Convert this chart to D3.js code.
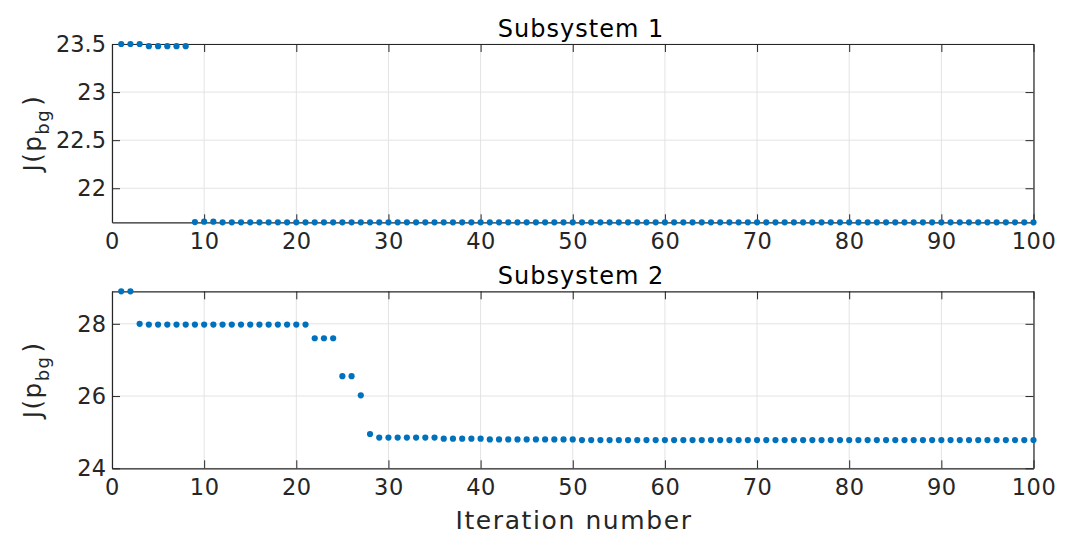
<!DOCTYPE html>
<html><head><meta charset="utf-8">
<script src="https://cdn.jsdelivr.net/npm/d3@7"></script>
<style>
body{margin:0;background:#fff;}
svg{display:block;font-family:"DejaVu Sans",Verdana,sans-serif;}
</style></head>
<body><svg id="c" width="1073" height="535"></svg>
<script>
const iterations = d3.range(1, 101);
const sub1Values = [23.5,23.5,23.5,23.477,23.477,23.477,23.477,23.477,
  21.648,21.652,21.652].concat(d3.range(12,101).map(()=>21.646));
const sub2Values = [28.9,28.9,28.0].concat(d3.range(4,22).map(()=>27.98))
  .concat([27.6,27.6,27.6,26.55,26.55,26.02,24.95])
  .concat(d3.range(29,36).map(()=>24.85))
  .concat(d3.range(36,41).map(()=>24.82))
  .concat(d3.range(41,51).map(()=>24.8))
  .concat(d3.range(51,101).map(()=>24.78));
const xTicks = [0,10,20,30,40,50,60,70,80,90,100];
const y1Ticks = [22,22.5,23,23.5];
const y2Ticks = [24,26,28];
const titles = ["Subsystem 1","Subsystem 2"];

const svg = d3.select("#c");
const x = d3.scaleLinear().domain([0,100]).range([112,1033.5]);
const panels = [
  {vals:sub1Values, dom:[21.646,23.5], top:44, bottom:222.3, ticks:y1Ticks, title:titles[0], fmt:d=>d},
  {vals:sub2Values, dom:[24,28.9], top:291.3, bottom:468.3, ticks:y2Ticks, title:titles[1], fmt:d=>d}
];
const color = "#0072BD";
panels.forEach(p=>{
  const y = d3.scaleLinear().domain(p.dom).range([p.bottom,p.top]);
  const g = svg.append("g");
  g.selectAll(".gx").data(xTicks).join("line")
    .attr("x1",d=>x(d)).attr("x2",d=>x(d)).attr("y1",p.top).attr("y2",p.bottom)
    .attr("stroke","#e3e3e3").attr("stroke-width",1);
  g.selectAll(".gy").data(p.ticks).join("line")
    .attr("x1",x(0)).attr("x2",x(100)).attr("y1",d=>y(d)).attr("y2",d=>y(d))
    .attr("stroke","#e3e3e3").attr("stroke-width",1);
  const ax = g.append("g").attr("transform",`translate(0,${p.bottom})`)
    .call(d3.axisBottom(x).tickValues(xTicks).tickSizeInner(-8).tickSizeOuter(0).tickPadding(11));
  const axT = g.append("g").attr("transform",`translate(0,${p.top})`)
    .call(d3.axisTop(x).tickValues(xTicks).tickSizeInner(-8).tickSizeOuter(0).tickFormat(""));
  const ay = g.append("g").attr("transform",`translate(${x(0)},0)`)
    .call(d3.axisLeft(y).tickValues(p.ticks).tickSizeInner(-8).tickSizeOuter(0).tickPadding(6).tickFormat(p.fmt));
  const ayR = g.append("g").attr("transform",`translate(${x(100)},0)`)
    .call(d3.axisRight(y).tickValues(p.ticks).tickSizeInner(-8).tickSizeOuter(0).tickFormat(""));
  [ax,axT,ay,ayR].forEach(a=>{
    a.selectAll("path").attr("stroke","#262626").attr("stroke-width",1.2);
    a.selectAll("line").attr("stroke","#262626").attr("stroke-width",1);
    a.selectAll("text").attr("fill","#262626").attr("font-size",22.5).attr("font-family","DejaVu Sans");
  });
  ax.selectAll("text").attr("letter-spacing",0.6);
  g.selectAll("circle").data(p.vals).join("circle")
    .attr("cx",(d,i)=>x(iterations[i])).attr("cy",d=>y(d)).attr("r",3.1).attr("fill",color);
  g.append("text").attr("x",581).attr("y",p.top-7).attr("text-anchor","middle")
    .attr("font-size",24).attr("letter-spacing",1).attr("fill","#000").text(p.title);
  const yl = g.append("text").attr("transform",`translate(41,${(p.top+p.bottom)/2}) rotate(-90)`)
    .attr("text-anchor","middle").attr("font-size",24.5).attr("letter-spacing",1.5).attr("fill","#262626");
  yl.append("tspan").text("J(p");
  yl.append("tspan").attr("font-size",18).attr("dy",8).text("bg");
  yl.append("tspan").attr("dy",-8).attr("dx",3).text(")");
});
svg.append("text").attr("x",574).attr("y",529).attr("text-anchor","middle")
  .attr("font-size",25).attr("letter-spacing",1.6).attr("fill","#262626").text("Iteration number");
</script></body></html>
